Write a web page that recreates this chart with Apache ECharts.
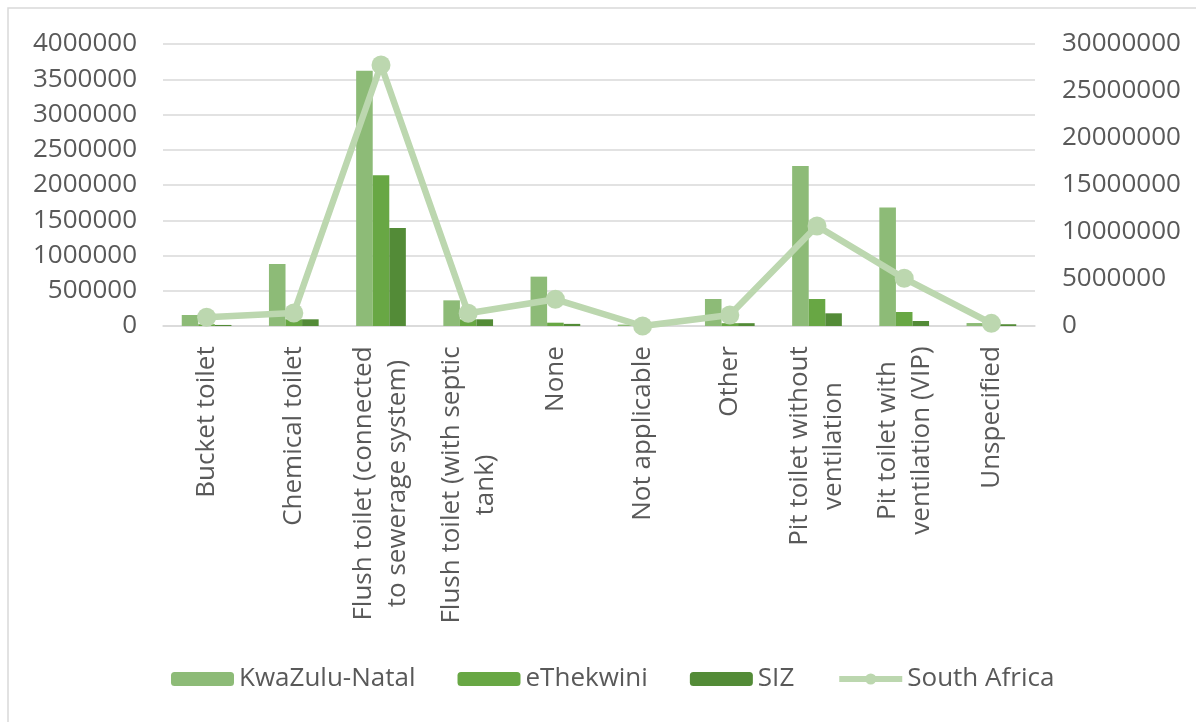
<!DOCTYPE html>
<html>
<head>
<meta charset="utf-8">
<script src="https://cdn.jsdelivr.net/npm/echarts@6/dist/echarts.min.js"></script>
<style>
  html, body { margin: 0; padding: 0; background: #fff; }
  #main { width: 1196px; height: 722px; }
</style>
</head>
<body>
<div id="main"></div>
<script>
  // categories (line breaks as in the original axis labels)
  var categories = [
    'Bucket toilet',
    'Chemical toilet',
    'Flush toilet (connected\nto sewerage system)',
    'Flush toilet (with septic\ntank)',
    'None',
    'Not applicable',
    'Other',
    'Pit toilet without\nventilation',
    'Pit toilet with\nventilation (VIP)',
    'Unspecified'
  ];
  var kwaZuluNatal = [156000, 879000, 3620000, 364000, 700000, 20000, 383000, 2270000, 1680000, 42000];
  var eThekwini = [25000, 95000, 2140000, 95000, 47000, 12000, 40000, 383000, 199000, 25000];
  var siz = [15000, 95000, 1390000, 95000, 30000, 8000, 40000, 180000, 71000, 25000];
  var southAfrica = [925000, 1380000, 27770000, 1350000, 2840000, 0, 1170000, 10640000, 5070000, 280000];

  var FONT = '"Open Sans", "Liberation Sans", sans-serif';
  var TEXT_COLOR = '#595959';
  var FONT_SIZE = 26;
  var LINE_COLOR = '#bcd7af';

  //measure label lines so each multi-line label can be centred line by line
  var ctx = document.createElement('canvas').getContext('2d');
  ctx.font = FONT_SIZE + 'px ' + FONT;
  var rich = {};
  var labelKeys = {};
  categories.forEach(function (name, i) {
    var lines = name.split('\n');
    var maxW = 0;
    lines.forEach(function (l) {
      maxW = Math.max(maxW, ctx.measureText(l).width);
    });
    rich['c' + i] = {
      width: Math.ceil(maxW) + 2,
      align: 'center',
      fontFamily: FONT,
      fontSize: FONT_SIZE,
      color: TEXT_COLOR,
      lineHeight: 34
    };
    labelKeys[name] = 'c' + i;
  });

  var plainNumber = function (v) {
    return String(v);
  };

  var chart = echarts.init(document.getElementById('main'));

  var option = {
    backgroundColor: '#fff',
    animation: false,
    textStyle: { fontFamily: FONT },
    graphic: [{
      type: 'rect',
      shape: { x: 8, y: 8, width: 1300, height: 800 },
      style: { fill: 'none', stroke: '#d9d9d9', lineWidth: 1.5 },
      silent: true
    }],
    grid: {
      left: 163,
      right: 161,
      top: 44,
      bottom: 396
    },
    legend: {
      left: 166,
      top: 661,
      itemWidth: 63,
      itemHeight: 14,
      itemGap: 42,
      textStyle: { fontFamily: FONT, fontSize: FONT_SIZE, color: TEXT_COLOR },
      data: [
        'KwaZulu-Natal',
        'eThekwini',
        'SIZ',
        { name: 'South Africa', lineStyle: { width: 6, color: LINE_COLOR } }
      ]
    },
    xAxis: {
      type: 'category',
      data: categories,
      axisLine: { lineStyle: { color: '#d9d9d9', width: 1.5 } },
      axisTick: { show: false },
      axisLabel: {
        rotate: 90,
        interval: 0,
        margin: 19,
        fontFamily: FONT,
        fontSize: FONT_SIZE,
        color: TEXT_COLOR,
        formatter: function (value) {
          var key = labelKeys[value];
          return value.split('\n').map(function (l) {
            return '{' + key + '|' + l + '}';
          }).join('\n');
        },
        rich: rich
      }
    },
    yAxis: [{
      type: 'value',
      min: 0,
      max: 4000000,
      interval: 500000,
      axisLine: { show: false },
      axisTick: { show: false },
      splitLine: { lineStyle: { color: '#d9d9d9', width: 1.5 } },
      axisLabel: {
        margin: 26,
        fontFamily: FONT,
        fontSize: FONT_SIZE,
        color: TEXT_COLOR,
        formatter: plainNumber
      }
    }, {
      type: 'value',
      min: 0,
      max: 30000000,
      interval: 5000000,
      axisLine: { show: false },
      axisTick: { show: false },
      splitLine: { show: false },
      axisLabel: {
        margin: 27,
        fontFamily: FONT,
        fontSize: FONT_SIZE,
        color: TEXT_COLOR,
        formatter: plainNumber
      }
    }],
    series: [
      {
        name: 'KwaZulu-Natal',
        type: 'bar',
        barGap: '0%',
        barCategoryGap: '43%',
        itemStyle: { color: '#8dbb77' },
        data: kwaZuluNatal
      },
      {
        name: 'eThekwini',
        type: 'bar',
        itemStyle: { color: '#68a744' },
        data: eThekwini
      },
      {
        name: 'SIZ',
        type: 'bar',
        itemStyle: { color: '#538b37' },
        data: siz
      },
      {
        name: 'South Africa',
        type: 'line',
        yAxisIndex: 1,
        z: 5,
        symbol: 'circle',
        symbolSize: 19,
        lineStyle: { color: LINE_COLOR, width: 6.5 },
        itemStyle: { color: LINE_COLOR },
        data: southAfrica
      }
    ]
  };

  chart.setOption(option);
</script>
</body>
</html>
